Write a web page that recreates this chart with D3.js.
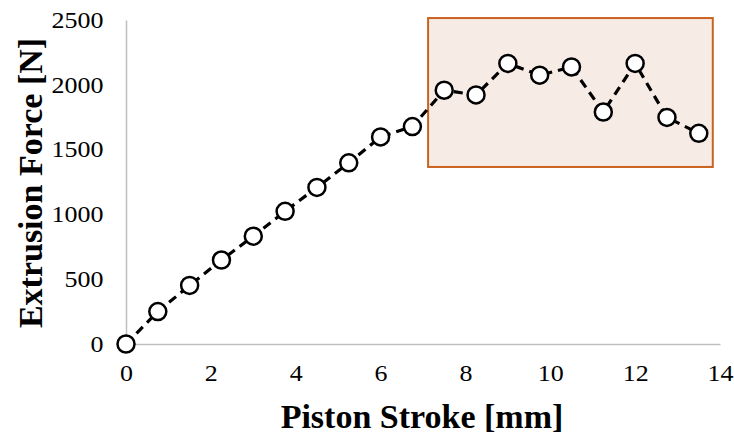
<!DOCTYPE html>
<html>
<head>
<meta charset="utf-8">
<script src="https://cdn.jsdelivr.net/npm/d3@7"></script>
<style>
  html, body { margin: 0; padding: 0; background: #fff; }
  svg { display: block; }
  text { font-family: "Liberation Serif", "Times New Roman", serif; }
</style>
</head>
<body>
<svg id="chart" width="734" height="437"></svg>
<script>
// Data
const stroke = [0, 0.75, 1.5, 2.25, 3, 3.75, 4.5, 5.25, 6, 6.75, 7.5, 8.25, 9, 9.75, 10.5, 11.25, 12, 12.75, 13.5];
const force  = [0, 250, 452, 648, 832, 1024, 1208, 1398, 1598, 1678, 1958, 1922, 2165, 2074, 2138, 1790, 2165, 1748, 1626];
const xTicks = [0, 2, 4, 6, 8, 10, 12, 14];
const yTicks = [0, 500, 1000, 1500, 2000, 2500];
const xTitle = "Piston Stroke [mm]";
const yTitle = "Extrusion Force [N]";
// highlighted region (data units)
const boxX = [7.12, 13.83];
const boxY = [1366, 2515];

(function () {
const svg = d3.select("#chart");
const mL = 126, mR = 720, mT = 20, mB = 344;
const sx = 1.13; // horizontal stretch of tick labels

const x = d3.scaleLinear().domain([0, 14]).range([mL, mR]);
const y = d3.scaleLinear().domain([0, 2500]).range([mB, mT]);

// highlight box
svg.append("rect")
  .attr("x", x(boxX[0])).attr("y", y(boxY[1]))
  .attr("width", x(boxX[1]) - x(boxX[0]))
  .attr("height", y(boxY[0]) - y(boxY[1]))
  .attr("fill", "#f7ebe6")
  .attr("stroke", "#c9631f")
  .attr("stroke-width", 2);

// axes
const xAxis = svg.append("g").attr("transform", `translate(0,${mB})`)
  .call(d3.axisBottom(x).tickValues(xTicks).tickSize(0).tickFormat(d3.format("d")));
const yAxis = svg.append("g").attr("transform", `translate(${mL},0)`)
  .call(d3.axisLeft(y).tickValues(yTicks).tickSize(0).tickFormat(d3.format("d")));
[xAxis, yAxis].forEach(g => {
  g.select(".domain").attr("stroke", "#bfbfbf").attr("stroke-width", 1.5);
  g.selectAll("text")
    .attr("font-family", "'Liberation Serif', 'Times New Roman', serif")
    .attr("font-size", 23).attr("fill", "#000")
    .attr("transform", `scale(${sx},1)`);
});
xAxis.selectAll("text").attr("y", 37).attr("dy", 0);
yAxis.selectAll("text").attr("x", -22.5 / sx).attr("dy", "0.32em");

// titles
svg.append("text")
  .attr("x", (mL + mR) / 2 - 1).attr("y", 428)
  .attr("text-anchor", "middle")
  .attr("font-size", 34).attr("font-weight", "bold")
  .text(xTitle);
svg.append("text")
  .attr("transform", `translate(42,183) rotate(-90)`)
  .attr("text-anchor", "middle")
  .attr("font-size", 34).attr("font-weight", "bold")
  .text(yTitle);

// line
const pts = stroke.map((s, i) => [s, force[i]]);
svg.append("path")
  .datum(pts)
  .attr("fill", "none")
  .attr("stroke", "#000")
  .attr("stroke-width", 3.2)
  .attr("stroke-dasharray", "9,6")
  .attr("d", d3.line().x(d => x(d[0])).y(d => y(d[1])));

// markers
svg.append("g").selectAll("circle")
  .data(pts).join("circle")
  .attr("cx", d => x(d[0])).attr("cy", d => y(d[1]))
  .attr("r", 8.5)
  .attr("fill", "#fff")
  .attr("stroke", "#000")
  .attr("stroke-width", 2.5);
})();
</script>
</body>
</html>
